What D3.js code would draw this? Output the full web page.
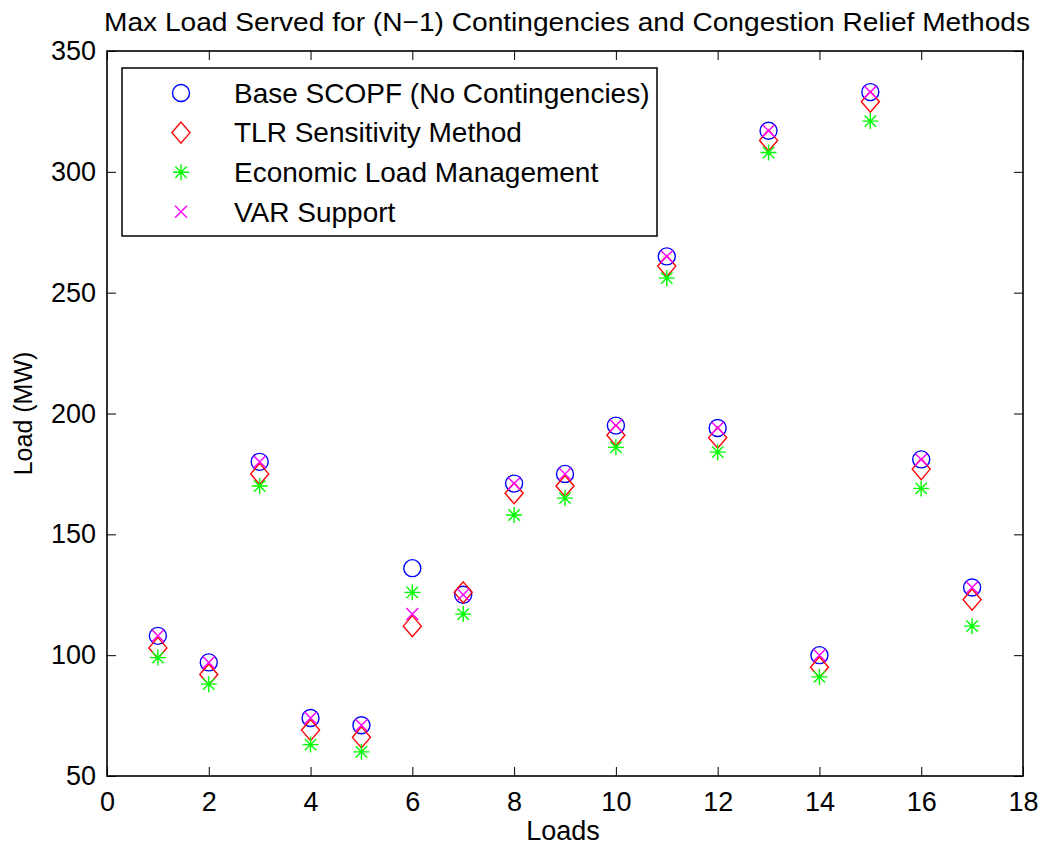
<!DOCTYPE html>
<html>
<head>
<meta charset="utf-8">
<script src="https://cdn.jsdelivr.net/npm/d3@7"></script>
<style>
  html, body { margin: 0; padding: 0; background: #fff; }
  svg { display: block; font-family: "Liberation Sans", Arial, Helvetica, sans-serif; }
</style>
</head>
<body>
<svg id="chart" width="1045" height="849"></svg>
<script>
// Load indices 1..17
const loads = [1, 2, 3, 4, 5, 6, 7, 8, 9, 10, 11, 12, 13, 14, 15, 16, 17];

// Max load served (MW) per method
const baseScopf = [108, 97, 180, 74, 71, 136, 125, 171, 175, 195, 265, 194, 317, 100, 333, 181, 128];
const tlrSensitivity = [103, 92, 175, 69, 66, 112, 126, 167, 170, 191, 261, 190, 313, 95, 329, 177, 123];
const economicLoad = [99, 88, 170, 63, 60, 126, 117, 158, 165, 186, 256, 184, 308, 91, 321, 169, 112];
const varSupport = [108, 97, 180, 74, 71, 117, 125, 171, 175, 195, 265, 194, 317, 100, 333, 181, 128];

const xTicks = [0, 2, 4, 6, 8, 10, 12, 14, 16, 18];
const yTicks = [50, 100, 150, 200, 250, 300, 350];

const seriesNames = [
  "Base SCOPF (No Contingencies)",
  "TLR Sensitivity Method",
  "Economic Load Management",
  "VAR Support"
];

const svg = d3.select("#chart");
const plotL = 107, plotR = 1023, plotT = 51, plotB = 776;

const x = d3.scaleLinear().domain([0, 18]).range([plotL, plotR]);
const y = d3.scaleLinear().domain([50, 350]).range([plotB, plotT]);

const FONT = 27;

// Axes with inward ticks on all four sides
function styleAxis(g) {
  g.select(".domain").remove();
  g.selectAll(".tick line").attr("stroke", "#000").attr("stroke-width", 1);
  g.selectAll(".tick text").attr("fill", "#000").attr("font-size", FONT)
    .attr("font-family", '"Liberation Sans", Arial, Helvetica, sans-serif');
}

svg.append("g").attr("transform", `translate(0,${plotB})`)
  .call(d3.axisBottom(x).tickValues(xTicks).tickSize(-9).tickPadding(16).tickFormat(d3.format("d")))
  .call(styleAxis);
svg.append("g").attr("transform", `translate(0,${plotT})`)
  .call(d3.axisTop(x).tickValues(xTicks).tickSize(-9).tickFormat(""))
  .call(styleAxis);
svg.append("g").attr("transform", `translate(${plotL},0)`)
  .call(d3.axisLeft(y).tickValues(yTicks).tickSize(-9).tickPadding(11).tickFormat(d3.format("d")))
  .call(styleAxis);
svg.append("g").attr("transform", `translate(${plotR},0)`)
  .call(d3.axisRight(y).tickValues(yTicks).tickSize(-9).tickFormat(""))
  .call(styleAxis);

// Plot frame
svg.append("rect")
  .attr("x", plotL).attr("y", plotT)
  .attr("width", plotR - plotL).attr("height", plotB - plotT)
  .attr("fill", "none").attr("stroke", "#000").attr("stroke-width", 1.6);

// Marker shapes
const markers = {
  circle: (g, color) => g.append("circle").attr("r", 8.5)
    .attr("fill", "none").attr("stroke", color).attr("stroke-width", 1.4),
  diamond: (g, color) => g.append("path").attr("d", "M0,-10.5L9,0L0,10.5L-9,0Z")
    .attr("fill", "none").attr("stroke", color).attr("stroke-width", 1.4),
  star: (g, color) => g.append("path")
    .attr("d", "M-8,0L8,0M0,-8L0,8M-5.7,-5.7L5.7,5.7M-5.7,5.7L5.7,-5.7")
    .attr("fill", "none").attr("stroke", color).attr("stroke-width", 1.4),
  cross: (g, color) => g.append("path")
    .attr("d", "M-6,-6L6,6M-6,6L6,-6")
    .attr("fill", "none").attr("stroke", color).attr("stroke-width", 1.4)
};

const series = [
  { name: seriesNames[0], values: baseScopf, shape: "circle", color: "#0000ff" },
  { name: seriesNames[1], values: tlrSensitivity, shape: "diamond", color: "#ff0000" },
  { name: seriesNames[2], values: economicLoad, shape: "star", color: "#00ff00" },
  { name: seriesNames[3], values: varSupport, shape: "cross", color: "#ff00ff" }
];

series.forEach(s => {
  const g = svg.append("g");
  loads.forEach((ld, i) => {
    const m = g.append("g").attr("transform", `translate(${x(ld)},${y(s.values[i])})`);
    markers[s.shape](m, s.color);
  });
});

// Legend
const legend = svg.append("g");
legend.append("rect")
  .attr("x", 122).attr("y", 68).attr("width", 535).attr("height", 168)
  .attr("fill", "#fff").attr("stroke", "#000").attr("stroke-width", 1.5);
series.forEach((s, i) => {
  const rowY = 93 + i * 39.6;
  const m = legend.append("g").attr("transform", `translate(181,${rowY})`);
  markers[s.shape](m, s.color);
  legend.append("text")
    .attr("x", 234).attr("y", rowY).attr("dy", "0.35em")
    .attr("font-size", 28).attr("fill", "#000")
    .text(s.name);
});

// Title and axis labels
svg.append("text")
  .attr("x", 567).attr("y", 31)
  .attr("text-anchor", "middle").attr("font-size", 26).attr("fill", "#000")
  .attr("textLength", 926).attr("lengthAdjust", "spacingAndGlyphs")
  .text("Max Load Served for (N\u22121) Contingencies and Congestion Relief Methods");

svg.append("text")
  .attr("x", 563).attr("y", 840)
  .attr("text-anchor", "middle").attr("font-size", 27).attr("fill", "#000")
  .text("Loads");

svg.append("text")
  .attr("transform", `translate(32,${(plotT + plotB) / 2}) rotate(-90)`)
  .attr("text-anchor", "middle").attr("font-size", 25).attr("fill", "#000")
  .text("Load (MW)");
</script>
</body>
</html>
